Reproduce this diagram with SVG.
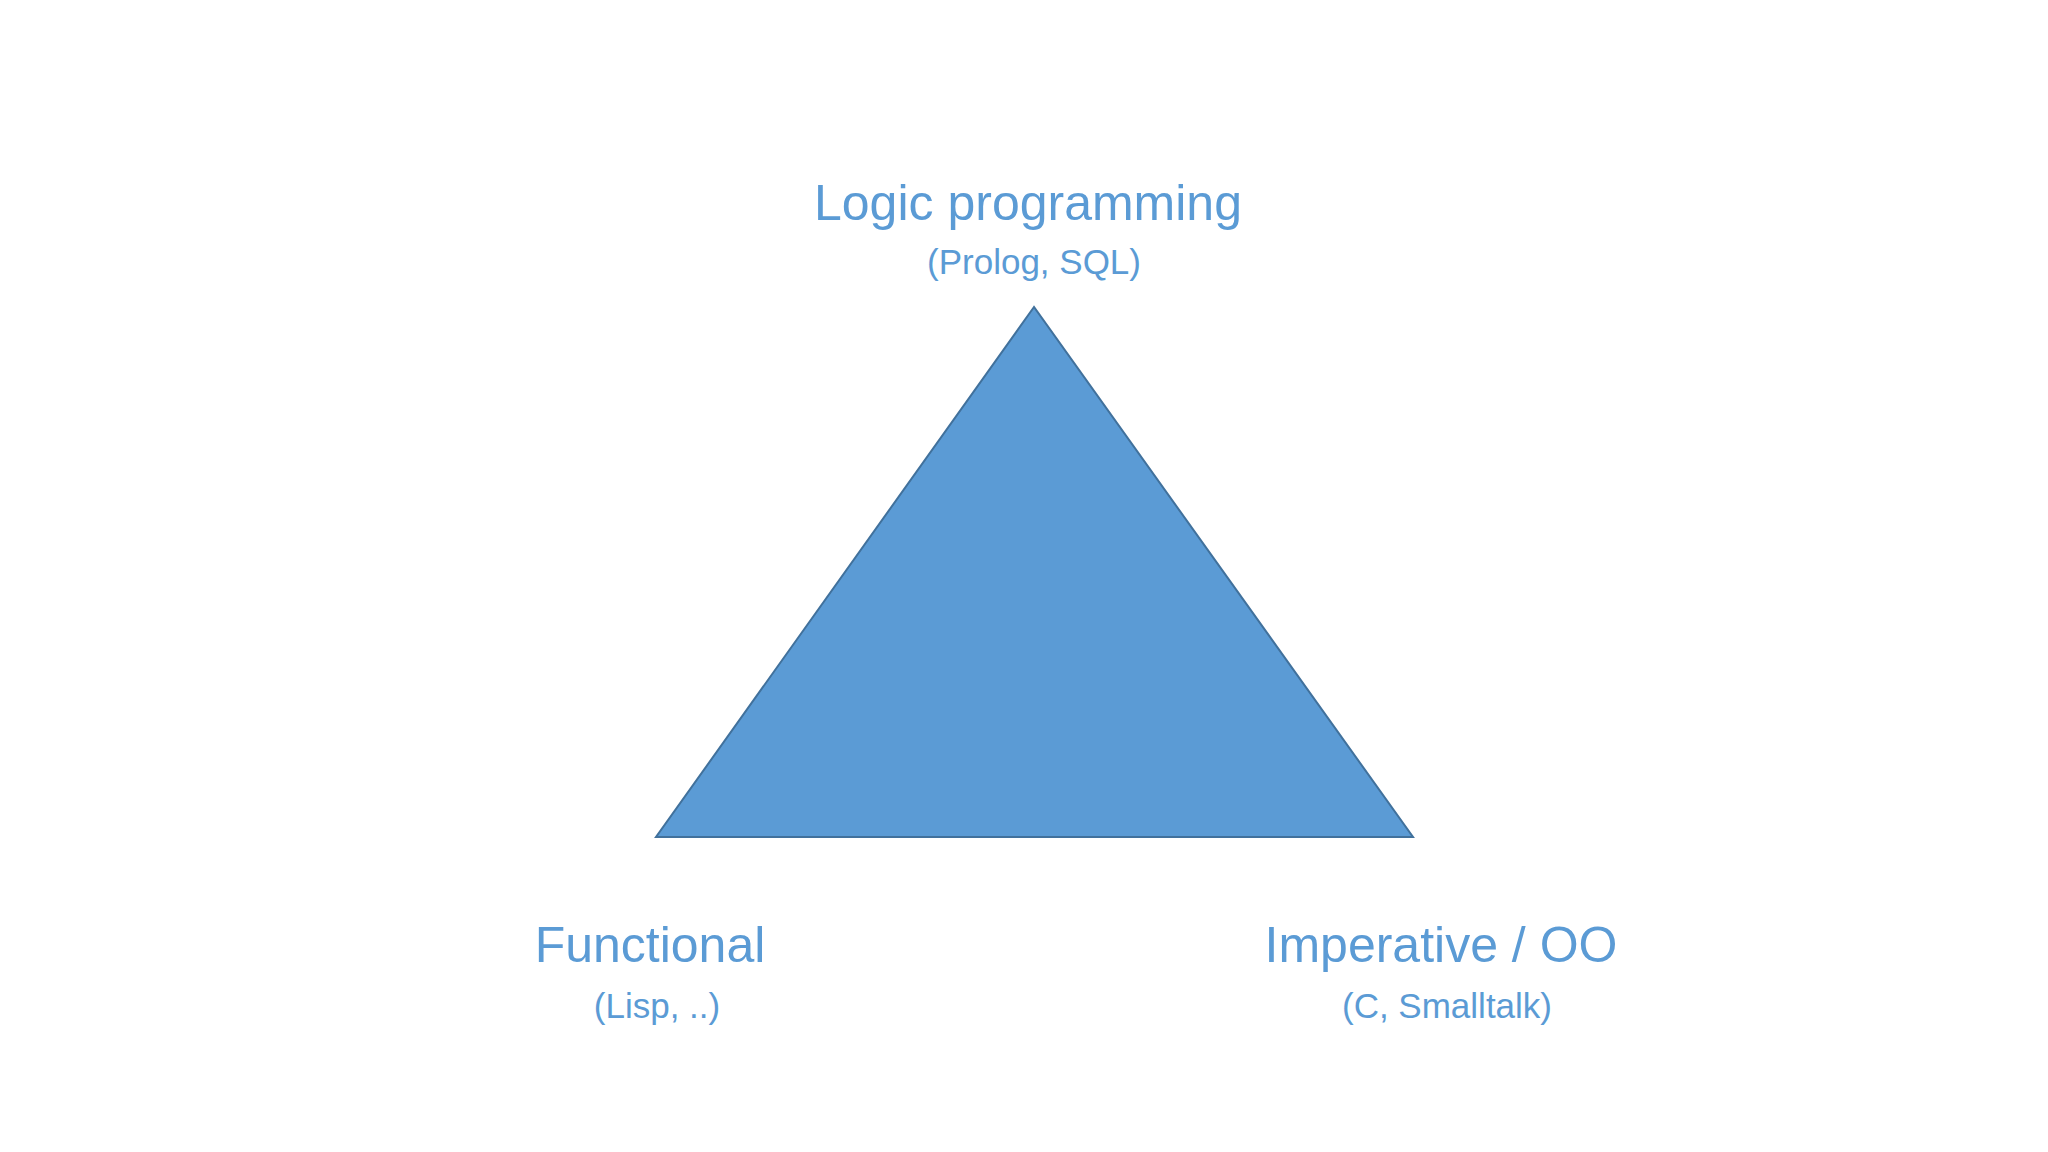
<svg xmlns="http://www.w3.org/2000/svg" width="2048" height="1152" viewBox="0 0 2048 1152">
<style>
.t{font-family:"Liberation Sans",Arial,sans-serif;fill:#5B9BD5;text-anchor:middle}
.big{font-size:50px}
.small{font-size:35px}
</style>
<rect width="2048" height="1152" fill="#fff"/>
<g id="triangle"><polygon points="1034,307 656,837 1413,837" fill="#5B9BD5" stroke="#41719C" stroke-width="2"/></g>
<g id="logic"><text class="t big" x="1028" y="220">Logic programming</text><text class="t small" x="1034" y="274">(Prolog, SQL)</text></g>
<g id="functional"><text class="t big" x="650" y="962">Functional</text><text class="t small" x="657" y="1018">(Lisp, ..)</text></g>
<g id="imperative"><text class="t big" x="1441" y="962">Imperative / OO</text><text class="t small" x="1447" y="1018">(C, Smalltalk)</text></g>
<g id="connectors"/>
</svg>
